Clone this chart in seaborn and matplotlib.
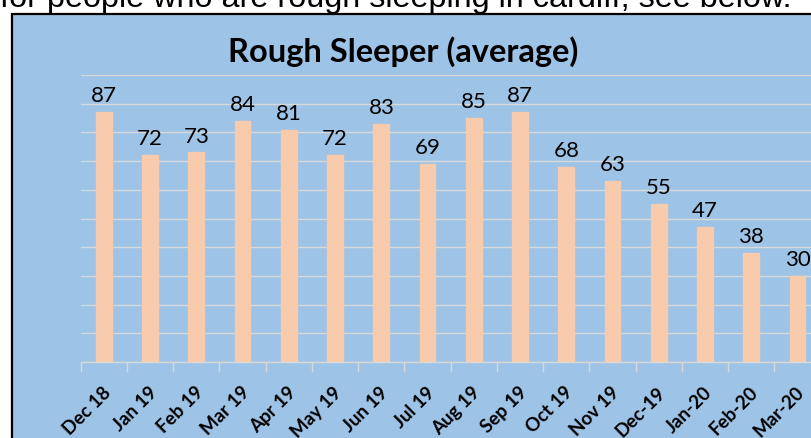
import matplotlib
matplotlib.use("Agg")
import matplotlib.pyplot as plt
import matplotlib.transforms as mtransforms
from matplotlib.patches import Rectangle
import seaborn as sns
import pandas as pd

months = ["Dec 18", "Jan 19", "Feb 19", "Mar 19", "Apr 19", "May 19", "Jun 19", "Jul 19",
          "Aug 19", "Sep 19", "Oct 19", "Nov 19", "Dec-19", "Jan-20", "Feb-20", "Mar-20"]
rough_sleepers = [87, 72, 73, 84, 81, 72, 83, 69, 85, 87, 68, 63, 55, 47, 38, 30]
title = "Rough Sleeper (average)"
intro_text = "for people who are rough sleeping in cardiff, see below."

sns.set_theme(style="white")
plt.rcParams["font.family"] = ["Lato", "DejaVu Sans"]

W, H = 812, 439
fig = plt.figure(figsize=(W / 100, H / 100), dpi=100)
fig.patch.set_facecolor("white")

# chart box (blue background with black border), extends beyond figure right/bottom
box = Rectangle((12 / W, -0.1), 1.2, (H - 15) / H + 0.1, transform=fig.transFigure,
                facecolor="#9DC3E6", edgecolor="black", linewidth=1.6, zorder=-10)
fig.patches.append(box)

# cropped document text at top
fig.text(0, (H - 7.5) / H, intro_text, family="Liberation Sans", fontsize=23.3,
         color="black", ha="left", va="baseline", zorder=-5)

ax = fig.add_axes([80.7 / W, 76 / H, 740 / W, 287 / H])
ax.set_facecolor("none")
ax.set_zorder(1)

df = pd.DataFrame({"month": months, "value": rough_sleepers})
sns.barplot(data=df, x="month", y="value", color="#F8CBAD", width=0.34,
            saturation=1, ax=ax, zorder=3)
for p in ax.patches:
    p.set_edgecolor("#F8CBAD")

ax.set_ylim(0, 100)
ax.set_xlim(-0.5, len(months) - 0.5)
ax.set_yticks(range(0, 101, 10))
ax.yaxis.grid(True, color="#D9D9D9", linewidth=1.0, zorder=0)
ax.set_yticklabels([])
ax.tick_params(axis="y", length=0)
for s in ["top", "right", "left"]:
    ax.spines[s].set_visible(False)
ax.spines["bottom"].set_color("#D9D9D9")
ax.spines["bottom"].set_linewidth(1.0)

ax.set_xlabel("")
ax.set_ylabel("")

# tick marks at category boundaries
ax.set_xticks([i - 0.5 for i in range(len(months) + 1)], minor=True)
ax.tick_params(axis="x", which="minor", length=7, color="#D9D9D9", width=1, direction="out", bottom=True)
ax.tick_params(axis="x", which="major", length=0, pad=2)
ax.set_xticks(range(len(months)))
ax.set_xticklabels(months, rotation=45, ha="right", rotation_mode="anchor",
                   fontsize=13.5, fontweight="bold", color="black")
offset = mtransforms.ScaledTranslation(-2 / 100, -18 / 100, fig.dpi_scale_trans)
for lbl in ax.get_xticklabels():
    lbl.set_transform(lbl.get_transform() + offset)

for c in ax.containers:
    ax.bar_label(c, labels=[str(v) for v in rough_sleepers], padding=5, fontsize=16, color="black")

fig.text(403 / W, (H - 52) / H, title, fontsize=23.5, fontweight="bold",
         ha="center", va="center", color="black")

fig.savefig("out.png", dpi=100)
